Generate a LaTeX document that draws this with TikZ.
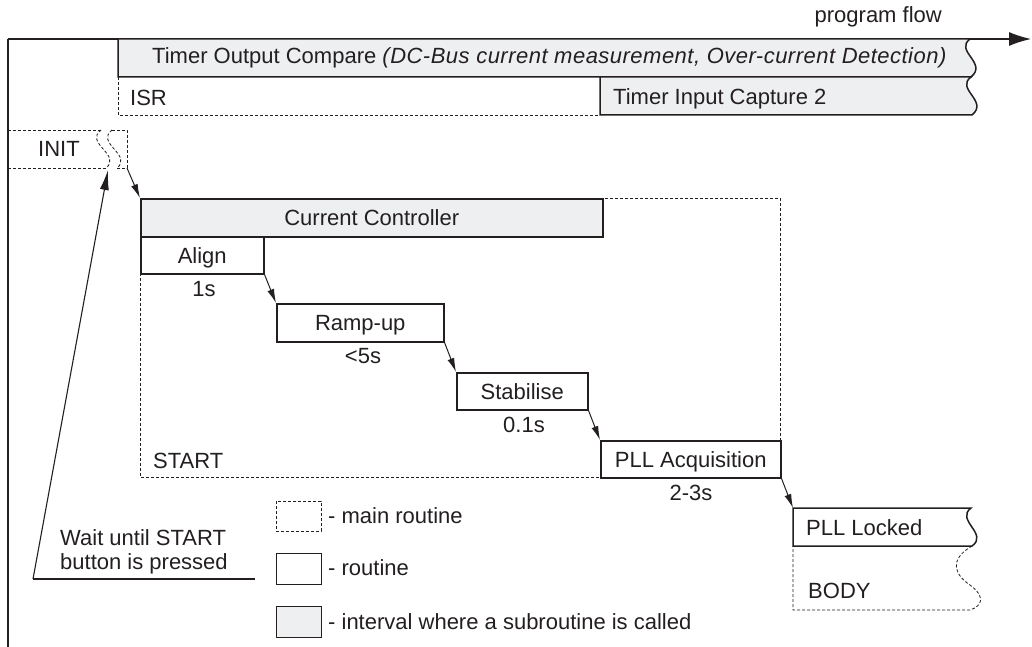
\documentclass[tikz,border=0pt]{standalone}
\usepackage{fontspec}
\setmainfont{Liberation Sans}
\usetikzlibrary{arrows.meta}
\definecolor{ink}{RGB}{35,31,32}
\definecolor{grayfill}{RGB}{238,239,241}
\begin{document}
\begin{tikzpicture}[x=1pt,y=-1pt,
  every node/.style={font=\fontsize{22}{26}\selectfont, text=ink, inner sep=0pt},
  boxline/.style={draw=ink, line width=1.5pt},
  routine/.style={boxline, fill=white, anchor=north west, text height=16pt, text depth=0pt},
  interval/.style={routine, fill=grayfill},
  mainr/.style={draw=ink, line width=0.8pt, dash pattern=on 3pt off 2pt},
  flow/.style={draw=ink, line width=1pt, -{Latex[length=14pt,width=7pt]}},
  lbl/.style={anchor=base},
  lblw/.style={anchor=base west},
  legend/.style={draw=ink, line width=1pt}]

\useasboundingbox (0,0) rectangle (1032,647);

% program flow axis
\coordinate (origin) at (8,39);
\coordinate (flowend) at (1031,39);
\coordinate (axisbottom) at (8,647);
\draw[draw=ink, line width=1.2pt, -{Latex[length=22pt,width=14pt]}] (origin) -- (flowend);
\draw[draw=ink, line width=1.2pt] (origin) -- (axisbottom);
\node[anchor=base east] (pf) at (942,23) {program flow};

% ISR row
\draw[boxline, fill=grayfill] (118,39) -- (970,39) .. controls (954,51) and (988,63) .. (971,77) -- (118,77) -- cycle;
\node[lblw] (toc) at (152,64) {Timer Output Compare {\itshape\addfontfeature{LetterSpace=2.2}(DC-Bus current measurement, Over-current Detection)}};
\draw[mainr] (118,77) -- (118,115) -- (600,115);
\node[lblw] (isr) at (130,106) {ISR};
\draw[boxline, fill=grayfill] (600,77) -- (971,77) .. controls (955,89) and (989,101) .. (972,115) -- (600,115) -- cycle;
\node[lblw] (tic) at (613,105) {Timer Input Capture 2};

% INIT
\draw[mainr] (8,130) -- (101,130) (112,130) -- (127,130) -- (127,168) -- (117,168) (8,168) -- (106,168);
\draw[mainr] (101,130) .. controls (84,143) and (122,155) .. (106,168);
\draw[mainr] (112,130) .. controls (95,143) and (133,155) .. (117,168);
\node[lblw] (init) at (38,157) {INIT};
\coordinate (initout) at (127,168);
\coordinate (initin) at (108,170);

% START main routine
\draw[mainr] (140,198) rectangle (780,477);
\node[lblw] (start) at (153,468) {START};

\node[interval, minimum width=462pt, minimum height=38pt] (cc) at (140,198) {Current Controller};
\node[routine, minimum width=123pt, minimum height=37pt] (align) at (140,236) {Align};
\node[routine, minimum width=167pt, minimum height=38pt] (ramp) at (276,303) {Ramp-up};
\node[routine, minimum width=131pt, minimum height=37pt] (stab) at (456,372) {Stabilise};
\node[routine, minimum width=180pt, minimum height=37pt] (pll) at (600,440) {PLL Acquisition};

\node[lbl] (t1) at (204,296) {1s};
\node[lbl] (t2) at (363,363) {<5s};
\node[lbl] (t3) at (524,432) {0.1s};
\node[lbl] (t4) at (691,500) {2-3s};

% BODY
\draw[mainr] (972,546) .. controls (948,560) and (955,575) .. (970,585) .. controls (986,597) and (982,606) .. (970,610) -- (793,610) -- (793,546);
\draw[boxline, fill=white] (793,508) -- (971,508) .. controls (955,520) and (989,534) .. (972,546) -- (793,546) -- cycle;
\coordinate (locked) at (793,508);
\node[lblw] (lk) at (806,535) {PLL Locked};
\node[lblw] (body) at (808,598) {BODY};

% connectors
\draw[flow] (initout) -- (cc.north west);
\draw[flow] (align.south east) -- (ramp.north west);
\draw[flow] (ramp.south east) -- (stab.north west);
\draw[flow] (stab.south east) -- (pll.north west);
\draw[flow] (pll.south east) -- (locked);

% wait note
\coordinate (waitfoot) at (33,579);
\coordinate (waitend) at (255,579);
\draw[draw=ink, line width=2.6pt] (waitfoot) -- (waitend);
\draw[draw=ink, line width=1.1pt, -{Latex[length=20pt,width=9pt]}] (waitfoot) -- (initin);
\node[lblw] (w1) at (60,545) {Wait until START};
\node[lblw] (w2) at (60,569) {button is pressed};

% legend
\draw[legend, line width=0.8pt, dash pattern=on 3pt off 2pt] (276,501) rectangle (321,531);
\draw[legend] (276,553) rectangle (321,584);
\draw[legend, fill=grayfill] (276,606) rectangle (321,637);
\node[lblw] (l1) at (328,523) {- main routine};
\node[lblw] (l2) at (328,575) {- routine};
\node[lblw] (l3) at (328,629) {- interval where a subroutine is called};
\end{tikzpicture}
\end{document}
